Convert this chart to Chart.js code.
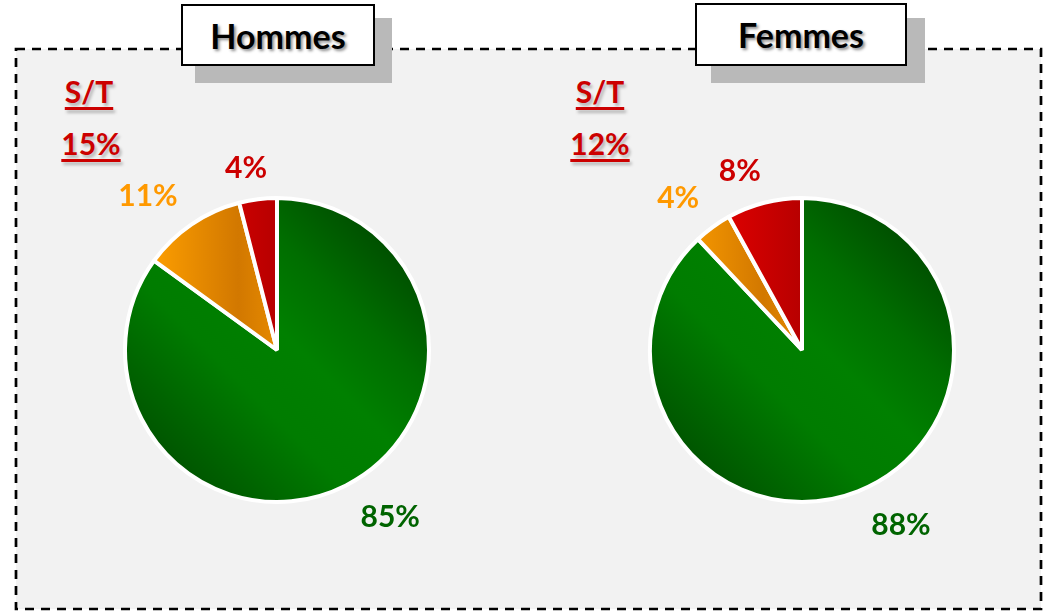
<!DOCTYPE html>
<html>
<head>
<meta charset="utf-8">
<script src="https://cdn.jsdelivr.net/npm/chart.js"></script>
<style>
  html, body { margin: 0; padding: 0; background: #ffffff; }
  body { width: 1047px; height: 612px; position: relative; overflow: hidden; font-family: Lato, "DejaVu Sans", sans-serif; }
  #frame { position: absolute; left: 0; top: 0; }
  .shadowbox { position: absolute; background: #b9b9b9; }
  .titlebox { position: absolute; background: #fff; border: 2px solid #000; box-sizing: border-box;
              display: flex; align-items: center; justify-content: center;
              font-weight: 700; font-size: 34px; color: #000; text-shadow: 2px 2px 3px rgba(0,0,0,0.45); }
  .st { position: absolute; width: 90px; text-align: center; color: #cc0000; font-weight: 700; font-size: 30px;
        text-decoration: underline; text-decoration-thickness: 3px; text-underline-offset: 4px;
        text-shadow: 2px 3px 3px rgba(0,0,0,0.25); line-height: 30px; }
  canvas.pie { position: absolute; }
</style>
</head>
<body>
<svg id="frame" width="1047" height="612">
  <rect x="16" y="49" width="1025" height="560" fill="#f2f2f2" stroke="#000" stroke-width="2.7" stroke-dasharray="9 7"/>
</svg>

<div class="shadowbox" style="left:195px;top:18px;width:197px;height:65px;"></div>
<div class="titlebox" id="title0" style="left:181px;top:4px;width:194px;height:62px;"></div>
<div class="shadowbox" style="left:711px;top:18px;width:214px;height:65px;"></div>
<div class="titlebox" id="title1" style="left:695px;top:3px;width:212px;height:63px;"></div>

<div class="st" id="stl0" style="left:44px;top:76px;"></div>
<div class="st" id="stv0" style="left:46px;top:128px;"></div>
<div class="st" id="stl1" style="left:555px;top:76px;"></div>
<div class="st" id="stv1" style="left:555px;top:128px;"></div>

<canvas class="pie" id="pie0" width="500" height="500" style="left:27px;top:100px;"></canvas>
<canvas class="pie" id="pie1" width="500" height="500" style="left:552px;top:100px;"></canvas>

<script>
// ---- Data ----
const groups = ['Hommes', 'Femmes'];
const categories = ['Vert', 'Orange', 'Rouge'];
const hommesValues = [85, 11, 4];
const femmesValues = [88, 4, 8];
const subtotalLabel = 'S/T';
const subtotals = [15, 12];

// ---- Text elements ----
groups.forEach((g, i) => {
  document.getElementById('title' + i).textContent = g;
  document.getElementById('stl' + i).textContent = subtotalLabel;
  document.getElementById('stv' + i).textContent = subtotals[i] + '%';
});

const labelColors = ['#006400', '#ff9900', '#cc0000'];

function gradientFor(chart, index) {
  const ctx = chart.ctx;
  const area = chart.chartArea;
  const cx = (area.left + area.right) / 2;
  const cy = (area.top + area.bottom) / 2;
  const r = 152;
  let g;
  if (index === 0) {
    g = ctx.createLinearGradient(cx - r * 0.75, cy + r * 0.75, cx + r * 0.75, cy - r * 0.75);
    g.addColorStop(0, '#005200');
    g.addColorStop(0.35, '#007c00');
    g.addColorStop(0.55, '#008000');
    g.addColorStop(0.75, '#006e00');
    g.addColorStop(1, '#004c00');
  } else if (index === 1) {
    g = ctx.createLinearGradient(cx - r * 0.85, cy, cx, cy);
    g.addColorStop(0, '#ffa000');
    g.addColorStop(0.7, '#d27800');
    g.addColorStop(1, '#e68a00');
  } else {
    g = ctx.createLinearGradient(cx - r * 0.5, cy, cx, cy);
    g.addColorStop(0, '#dd0000');
    g.addColorStop(1, '#b70000');
  }
  return g;
}

const pctLabels = {
  id: 'pctLabels',
  afterDatasetsDraw(chart, args, opts) {
    const ctx = chart.ctx;
    const meta = chart.getDatasetMeta(0);
    const values = chart.data.datasets[0].data;
    ctx.save();
    ctx.font = '700 30px Lato';
    ctx.textAlign = 'center';
    ctx.textBaseline = 'middle';
    meta.data.forEach((arc, i) => {
      const p = arc.getProps(['x', 'y', 'startAngle', 'endAngle', 'outerRadius'], true);
      const mid = (p.startAngle + p.endAngle) / 2 + opts.nudge[i][1] * Math.PI / 180;
      const d = p.outerRadius + opts.nudge[i][0];
      ctx.fillStyle = labelColors[i];
      ctx.fillText(values[i] + '%', p.x + Math.cos(mid) * d, p.y + Math.sin(mid) * d);
    });
    ctx.restore();
  }
};

function makePie(id, values, nudge) {
  return new Chart(document.getElementById(id), {
    type: 'pie',
    data: {
      labels: categories,
      datasets: [{
        data: values,
        backgroundColor: (c) => c.chart.chartArea ? gradientFor(c.chart, c.dataIndex) : labelColors[c.dataIndex],
        borderColor: '#ffffff',
        borderWidth: 4,
        hoverOffset: 0
      }]
    },
    options: {
      responsive: false,
      devicePixelRatio: 1,
      animation: false,
      radius: 152,
      layout: { padding: 0 },
      plugins: {
        legend: { display: false },
        tooltip: { enabled: false },
        pctLabels: { nudge: nudge }
      }
    },
    plugins: [pctLabels]
  });
}

function build() {
  makePie('pie0', hommesValues, [[50, -7.1], [49, -5.75], [32, -2.5]]);
  makePie('pie1', femmesValues, [[49, -7.9], [44, -3.2], [37, -4.8]]);
}

if (document.fonts && document.fonts.load) {
  Promise.all([document.fonts.load('700 30px Lato'), document.fonts.load('700 34px Lato')]).then(build, build);
} else {
  build();
}
</script>
</body>
</html>
